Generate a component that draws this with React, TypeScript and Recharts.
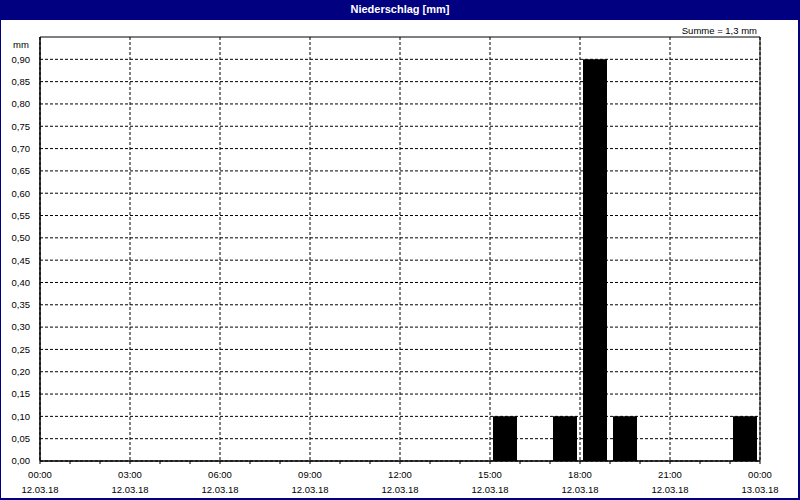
import React from 'react';
import { BarChart, Bar, XAxis, YAxis, CartesianGrid, ReferenceArea } from 'recharts';

const hours = [0, 1, 2, 3, 4, 5, 6, 7, 8, 9, 10, 11, 12, 13, 14, 15, 16, 17, 18, 19, 20, 21, 22, 23];
const precipitation = [0, 0, 0, 0, 0, 0, 0, 0, 0, 0, 0, 0, 0, 0, 0, 0.1, 0, 0.1, 0.9, 0.1, 0, 0, 0, 0.1];

const xTicks = [0, 1, 2, 3, 4, 5, 6, 7, 8, 9, 10, 11, 12, 13, 14, 15, 16, 17, 18, 19, 20, 21, 22, 23, 24];
const xMajorTicks = [0, 3, 6, 9, 12, 15, 18, 21, 24];
const xTimeLabels = ['00:00', '03:00', '06:00', '09:00', '12:00', '15:00', '18:00', '21:00', '00:00'];
const xDateLabels = ['12.03.18', '12.03.18', '12.03.18', '12.03.18', '12.03.18', '12.03.18', '12.03.18', '12.03.18', '13.03.18'];
const yTicks = [0, 0.05, 0.1, 0.15, 0.2, 0.25, 0.3, 0.35, 0.4, 0.45, 0.5, 0.55, 0.6, 0.65, 0.7, 0.75, 0.8, 0.85, 0.9];
const yMax = 0.95;

const title = 'Niederschlag [mm]';
const unitLabel = 'mm';
const sumLabel = 'Summe = 1,3 mm';

const data = hours.map((h, i) => ({ hour: h, value: precipitation[i] }));

const FONT = 'Tahoma, "Liberation Sans", Arial, sans-serif';

const XTick = (props: any) => {
  const { x, y, payload } = props;
  const idx = xMajorTicks.indexOf(payload.value);
  if (idx < 0) return <g />;
  return (
    <g>
      <text x={x} y={y + 12} textAnchor="middle" fontSize={9.5} fontFamily={FONT} fill="#000">
        {xTimeLabels[idx]}
      </text>
      <text x={x} y={y + 27} textAnchor="middle" fontSize={9.5} fontFamily={FONT} fill="#000">
        {xDateLabels[idx]}
      </text>
    </g>
  );
};

export default function App() {
  return (
    <div style={{ position: 'absolute', left: 0, top: 0, width: 800, height: 500, background: '#fff', fontFamily: FONT }}>
      <BarChart
        width={800}
        height={500}
        data={data}
        margin={{ top: 37, right: 40, bottom: 9, left: 0 }}
        style={{ position: 'absolute', left: 0, top: 0 }}
      >
        <CartesianGrid
          stroke="#000"
          strokeDasharray="3 2"
          verticalValues={xMajorTicks}
          horizontalValues={yTicks}
        />
        <XAxis
          type="number"
          dataKey={(d: any) => d.hour + 0.5}
          domain={[0, 24]}
          ticks={xTicks}
          interval={0}
          allowDataOverflow
          height={30}
          tickSize={3}
          tickMargin={2}
          stroke="#000"
          tick={<XTick />}
        />
        <YAxis
          type="number"
          domain={[0, yMax]}
          ticks={yTicks}
          interval={0}
          allowDataOverflow
          width={40}
          tickLine={false}
          tickMargin={4}
          stroke="#000"
          tick={{ fill: '#000', fontSize: 9.5, fontFamily: FONT }}
          tickFormatter={(v: number) => v.toFixed(2).replace('.', ',')}
        />
        <ReferenceArea x1={0} x2={24} y1={0} y2={yMax} fill="none" stroke="#000" strokeWidth={1} fillOpacity={0} />
        <Bar dataKey="value" fill="#000" barSize={24} isAnimationActive={false} />
      </BarChart>
      <div
        style={{
          position: 'absolute', left: 0, top: 0, width: 800, height: 20, background: '#000080',
          color: '#fff', fontWeight: 'bold', fontSize: 11, lineHeight: '19px', textAlign: 'center',
        }}
      >
        {title}
      </div>
      <div style={{ position: 'absolute', right: 43, top: 24, fontSize: 9.5, lineHeight: '14px', color: '#000', whiteSpace: 'nowrap' }}>
        {sumLabel}
      </div>
      <div style={{ position: 'absolute', left: 13, top: 38, fontSize: 9.5, lineHeight: '14px', color: '#000' }}>
        {unitLabel}
      </div>
      <div
        style={{
          position: 'absolute', left: 0, top: 0, width: 800, height: 500, boxSizing: 'border-box',
          borderLeft: '1px solid #000080', borderTop: '1px solid #000080',
          borderRight: '2px solid #000080', borderBottom: '2px solid #000080', pointerEvents: 'none',
        }}
      />
    </div>
  );
}
